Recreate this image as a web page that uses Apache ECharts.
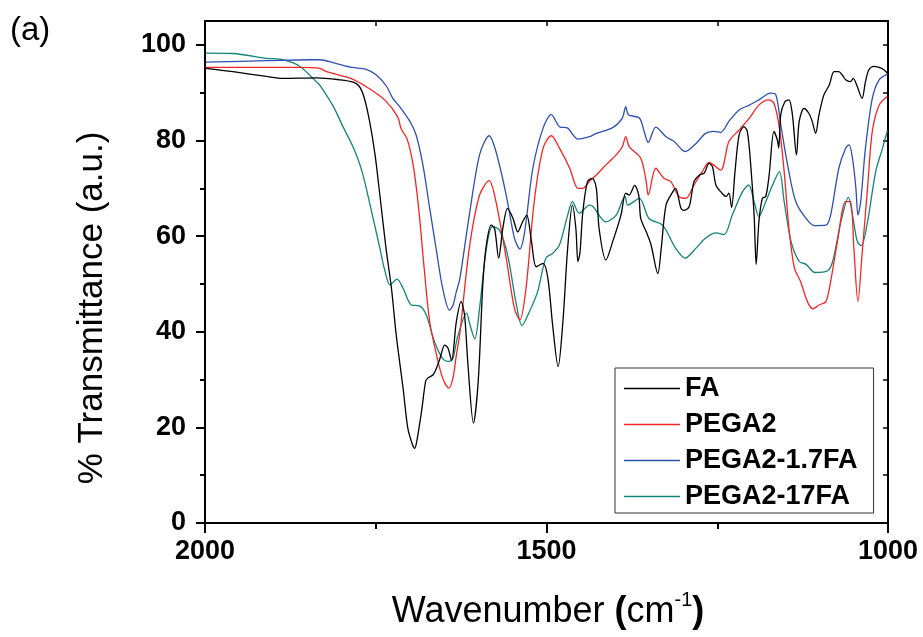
<!DOCTYPE html>
<html>
<head>
<meta charset="utf-8">
<script src="https://cdn.jsdelivr.net/npm/echarts@6/dist/echarts.min.js"></script>
<style>html,body{margin:0;padding:0;background:#fff}#c{width:923px;height:637px}</style>
</head>
<body>
<div id="c"></div>
<script>
// ---- data: [wavenumber (cm-1), % transmittance] ----
var seriesNames = ['FA', 'PEGA2', 'PEGA2-1.7FA', 'PEGA2-17FA'];
var xTickLabels = [2000, 1500, 1000];
var yTickLabels = [0, 20, 40, 60, 80, 100];

var faData = [[1999,95.1],[1959,94.4],[1910,93.4],[1886,93.0],[1837,93.1],[1803,92.7],[1783,92.2],[1774,91.3],[1767,89.0],[1759,84.0],[1751,77.0],[1744,68.6],[1735,57.5],[1727,49.1],[1720,39.3],[1710,28.2],[1703,19.8],[1696,16.3],[1693,15.6],[1690,17.0],[1683,23.3],[1677,29.6],[1674,30.3],[1666,31.0],[1661,32.4],[1656,34.4],[1649,37.2],[1644,36.5],[1639,34.0],[1632,42.1],[1625,46.3],[1620,43.5],[1615,33.1],[1607,20.9],[1600,29.6],[1593,50.5],[1588,58.2],[1581,62.3],[1576,61.6],[1570,55.4],[1564,61.6],[1557,65.8],[1549,63.7],[1542,60.9],[1535,63.0],[1529,64.4],[1522,58.9],[1515,53.6],[1505,54.3],[1498,51.2],[1491,41.4],[1483,32.7],[1476,42.1],[1469,57.5],[1462,66.5],[1457,61.6],[1454,54.7],[1451,56.5],[1447,64.8],[1440,71.4],[1433,72.1],[1427,70.0],[1423,61.6],[1413,55.0],[1403,58.9],[1391,64.4],[1384,69.0],[1379,68.6],[1371,70.6],[1365,68.6],[1362,63.7],[1354,60.9],[1347,58.2],[1337,52.2],[1332,57.5],[1325,66.5],[1315,69.3],[1311,70.0],[1303,65.8],[1298,65.4],[1291,66.2],[1284,71.4],[1276,72.8],[1269,73.2],[1262,75.2],[1257,74.5],[1252,70.7],[1245,69.3],[1237,68.3],[1233,69.0],[1229,66.0],[1224,73.5],[1218,81.2],[1211,82.9],[1206,81.9],[1201,74.9],[1196,64.4],[1193,54.1],[1189,63.0],[1184,67.9],[1179,68.3],[1174,72.8],[1167,81.9],[1162,80.1],[1160,78.4],[1157,85.4],[1151,88.1],[1145,88.5],[1140,85.4],[1134,77.0],[1130,84.0],[1123,86.7],[1116,85.7],[1111,84.0],[1106,81.5],[1101,85.4],[1094,89.5],[1086,91.6],[1079,94.4],[1072,94.4],[1067,93.7],[1062,92.7],[1055,92.3],[1051,93.0],[1045,91.3],[1038,88.8],[1033,92.3],[1028,94.8],[1021,95.5],[1013,95.3],[1006,94.8],[1001,94.1]];

var pega2Data = [[1999,95.3],[1861,95.3],[1832,95.1],[1822,94.4],[1785,92.9],[1761,91.0],[1737,88.5],[1718,85.0],[1713,82.5],[1704,80.3],[1695,74.7],[1687,65.6],[1679,53.1],[1671,42.1],[1661,35.1],[1652,30.3],[1643,28.2],[1637,30.3],[1632,35.1],[1627,39.5],[1613,57.5],[1598,68.6],[1584,71.6],[1574,67.2],[1559,55.4],[1547,44.9],[1539,42.5],[1530,49.1],[1518,67.2],[1505,78.4],[1493,81.0],[1481,78.4],[1466,74.2],[1454,70.0],[1447,70.0],[1437,71.5],[1427,72.8],[1413,74.9],[1398,77.0],[1389,78.7],[1384,80.8],[1379,78.7],[1362,76.3],[1354,71.4],[1351,68.6],[1340,74.2],[1328,72.1],[1318,71.4],[1306,68.3],[1296,67.9],[1284,70.7],[1272,73.5],[1262,75.4],[1245,73.8],[1233,79.8],[1218,82.2],[1203,84.7],[1189,87.4],[1175,88.5],[1167,87.8],[1159,82.6],[1152,73.5],[1145,61.6],[1137,53.3],[1128,50.5],[1118,46.3],[1110,44.8],[1101,45.6],[1091,46.3],[1084,50.5],[1074,58.9],[1062,67.2],[1055,67.2],[1050,57.5],[1044,46.3],[1038,56.1],[1030,70.0],[1023,81.9],[1013,87.4],[1001,89.2]];

var pega217Data = [[1999,96.4],[1910,96.7],[1847,96.9],[1832,96.9],[1810,96.2],[1785,95.3],[1764,94.9],[1749,93.7],[1734,91.3],[1725,88.8],[1715,87.1],[1700,84.0],[1691,81.2],[1681,74.9],[1671,65.8],[1661,56.8],[1652,49.1],[1642,44.5],[1637,45.5],[1632,48.4],[1627,51.0],[1613,64.4],[1598,77.0],[1584,81.0],[1574,77.7],[1559,68.6],[1547,59.6],[1539,57.3],[1532,60.9],[1520,74.2],[1505,82.6],[1493,85.4],[1481,82.9],[1469,82.6],[1454,80.3],[1437,80.8],[1427,81.5],[1403,82.7],[1389,84.7],[1384,87.1],[1380,85.4],[1364,84.7],[1357,81.9],[1351,79.6],[1340,82.8],[1325,80.8],[1313,79.8],[1297,77.7],[1281,79.4],[1267,81.5],[1255,81.9],[1245,81.7],[1233,84.0],[1218,86.4],[1203,87.4],[1189,88.5],[1172,89.9],[1164,89.5],[1157,83.3],[1147,74.9],[1135,67.2],[1120,63.7],[1108,62.2],[1091,62.3],[1084,64.4],[1072,74.2],[1062,78.4],[1057,79.1],[1052,76.3],[1047,70.0],[1044,64.4],[1040,67.2],[1033,78.4],[1023,88.8],[1013,92.7],[1001,93.9]];

var pega2170Data = [[1999,98.3],[1959,98.2],[1910,97.2],[1886,96.9],[1861,95.5],[1837,92.3],[1832,91.6],[1812,87.1],[1798,82.9],[1783,78.6],[1770,73.5],[1757,65.7],[1744,57.5],[1737,53.0],[1729,49.8],[1719,51.0],[1710,49.1],[1698,45.6],[1686,45.4],[1676,43.5],[1664,37.9],[1652,34.4],[1642,33.8],[1637,34.4],[1630,39.0],[1617,43.9],[1612,41.4],[1605,38.5],[1598,44.9],[1588,57.5],[1579,62.0],[1569,61.3],[1557,56.1],[1544,45.6],[1536,41.3],[1525,44.2],[1513,48.4],[1501,55.4],[1491,56.4],[1481,58.2],[1469,64.4],[1462,67.2],[1452,64.8],[1437,66.5],[1432,66.2],[1413,63.0],[1398,64.4],[1385,68.3],[1381,66.5],[1364,67.9],[1350,63.7],[1330,62.3],[1311,57.5],[1297,55.4],[1281,57.5],[1267,59.6],[1252,60.7],[1240,60.3],[1228,64.4],[1213,69.3],[1204,70.7],[1196,67.2],[1189,64.1],[1179,67.2],[1169,70.7],[1159,73.5],[1152,67.2],[1142,58.9],[1130,54.7],[1120,54.1],[1107,52.4],[1089,52.7],[1081,54.7],[1069,63.0],[1058,68.1],[1052,64.4],[1045,58.9],[1039,58.0],[1030,63.0],[1018,73.5],[1008,78.4],[1001,82.0]];

var seriesColors = ['#000000', '#f52525', '#2e4fb4', '#128479'];
var seriesData = [faData, pega2Data, pega217Data, pega2170Data];

var FONT = '"Liberation Sans", Arial, sans-serif';
var chart = echarts.init(document.getElementById('c'), null, {renderer: 'canvas'});

var axisLineStyle = {color: '#000', width: 2};
function plainNum(v) { return String(v); }
var option = {
  animation: false,
  backgroundColor: '#fff',
  grid: {left: 205, right: 35, top: 21, bottom: 114, outerBoundsMode: 'none', containLabel: false},
  legend: {
    orient: 'vertical', left: 615, top: 368,
    padding: [7, 16, 3, 9], itemGap: 9, itemWidth: 56, itemHeight: 1.6,
    icon: 'rect',
    borderColor: '#333', borderWidth: 1, backgroundColor: '#fff',
    textStyle: {fontFamily: FONT, fontSize: 27, fontWeight: 'bold', color: '#000'},
    data: seriesNames
  },
  xAxis: [
    {
      type: 'value', position: 'bottom', min: 1000, max: 2000, inverse: true, interval: 500,
      axisLine: {show: true, onZero: false, lineStyle: axisLineStyle},
      axisTick: {show: true, inside: false, length: 10, lineStyle: {color: '#000', width: 2}},
      minorTick: {show: true, splitNumber: 2, length: 6, lineStyle: {color: '#000', width: 2}},
      axisLabel: {show: true, fontFamily: FONT, fontSize: 27, fontWeight: 'bold', color: '#000', margin: 15,
        customValues: xTickLabels, formatter: plainNum},
      splitLine: {show: false}, minorSplitLine: {show: false}
    },
    {
      type: 'value', position: 'top', min: 1000, max: 2000, inverse: true, interval: 250,
      axisLine: {show: true, onZero: false, lineStyle: axisLineStyle},
      axisTick: {show: true, inside: true, length: 5, lineStyle: {color: '#000', width: 1.5}},
      axisLabel: {show: false}, splitLine: {show: false}
    }
  ],
  yAxis: [
    {
      type: 'value', position: 'left', min: 0, max: 105, interval: 20,
      axisLine: {show: true, onZero: false, lineStyle: axisLineStyle},
      axisTick: {show: true, inside: false, length: 9, customValues: yTickLabels, lineStyle: {color: '#000', width: 2}},
      axisLabel: {show: true, fontFamily: FONT, fontSize: 27, fontWeight: 'bold', color: '#000', margin: 19,
        customValues: yTickLabels, formatter: plainNum},
      splitLine: {show: false}
    },
    {
      type: 'value', position: 'right', min: 0, max: 105, interval: 10,
      axisLine: {show: true, onZero: false, lineStyle: axisLineStyle},
      axisTick: {show: true, inside: true, length: 5, customValues: [0,10,20,30,40,50,60,70,80,90,100], lineStyle: {color: '#000', width: 1.5}},
      axisLabel: {show: false}, splitLine: {show: false}
    },
    {
      type: 'value', position: 'left', min: 0, max: 105, interval: 10,
      axisLine: {show: false},
      axisTick: {show: true, inside: false, length: 5, customValues: [10,30,50,70,90], lineStyle: {color: '#000', width: 2}},
      axisLabel: {show: false}, splitLine: {show: false}
    }
  ],
  graphic: [
    {type: 'text', left: 10, top: 14, style: {text: '(a)', font: '33px ' + FONT, fill: '#000'}},
    {type: 'text', x: 92, y: 308, rotation: Math.PI / 2,
      style: {text: '% Transmittance (a.u.)', font: '35px ' + FONT, fill: '#000', align: 'center', verticalAlign: 'middle'}},
    {type: 'text', x: 548, y: 610,
      style: {
        text: '{n|Wavenumber }{p|(}{n|cm}{s|-1}{p|)}',
        align: 'center', verticalAlign: 'middle',
        rich: {
          n: {fontFamily: FONT, fontSize: 36, fill: '#000', color: '#000', verticalAlign: 'bottom', lineHeight: 40},
          p: {fontFamily: FONT, fontSize: 36, fontWeight: 'bold', fill: '#000', color: '#000', verticalAlign: 'bottom', lineHeight: 40},
          s: {fontFamily: FONT, fontSize: 20, fill: '#000', color: '#000', verticalAlign: 'top', lineHeight: 40}
        }
      }
    }
  ],
  series: seriesNames.map(function (name, i) {
    return {
      name: name, type: 'line', xAxisIndex: 0, yAxisIndex: 0,
      data: seriesData[i], symbol: 'none', showSymbol: false,
      smooth: 0.3, clip: true,
      lineStyle: {color: seriesColors[i], width: 1.3},
      itemStyle: {color: seriesColors[i]},
      z: 10 - i
    };
  })
};
chart.setOption(option);
</script>
</body>
</html>
